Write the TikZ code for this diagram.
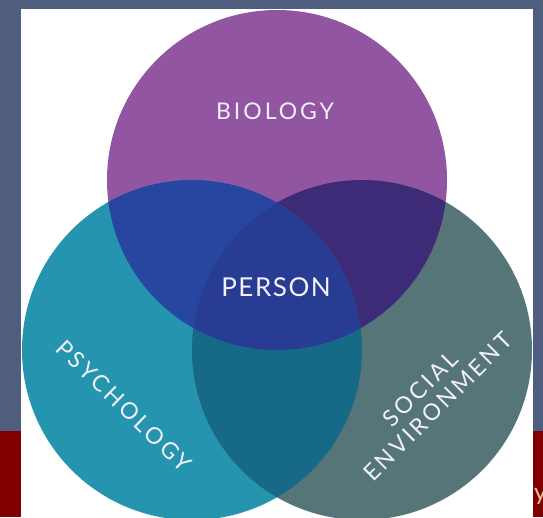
\documentclass[tikz,border=0pt]{standalone}
\usepackage{fontspec}
\newfontfamily\lbl[LetterSpace=13]{Lato}
\newfontfamily\lblp[LetterSpace=6]{Lato}
\newfontfamily\plain{Lato}
\definecolor{slate}{HTML}{4F5E7E}
\definecolor{band}{HTML}{800000}
\definecolor{bio}{HTML}{9155A2}
\definecolor{psy}{HTML}{2594AF}
\definecolor{soc}{HTML}{557579}
\definecolor{biopsy}{HTML}{2746A0}
\definecolor{biosoc}{HTML}{3D2B78}
\definecolor{psysoc}{HTML}{176A87}
\definecolor{core}{HTML}{293C94}
\definecolor{txt}{HTML}{F2F0F8}
\definecolor{tan}{HTML}{E6C592}
\tikzset{
  lab/.style={text=txt, font=\lbl\fontsize{23}{25}\selectfont, inner sep=0pt, align=center},
}
\begin{document}
\begin{tikzpicture}[x=1pt,y=-1pt]
\useasboundingbox (0,0) rectangle (543,517);
\fill[slate] (0,0) rectangle (543,517);
\fill[band] (0,431) rectangle (543,517);
\fill[white] (21,9) rectangle (533,517);
\def\cbio{(277,180) circle (170)}
\def\cpsy{(192,350) circle (170)}
\def\csoc{(362,350) circle (170)}
\fill[bio] \cbio;
\fill[psy] \cpsy;
\fill[soc] \csoc;
\begin{scope}
  \clip \cbio;
  \fill[biopsy] \cpsy;
  \fill[biosoc] \csoc;
\end{scope}
\begin{scope}
  \clip \cpsy;
  \fill[psysoc] \csoc;
\end{scope}
\begin{scope}
  \clip \cbio;
  \clip \cpsy;
  \fill[core] \csoc;
\end{scope}
\node[lab] (biology) at (275,111) {BIOLOGY};
\node[lab, font=\lblp\fontsize{26}{28}\selectfont] (person) at (276,287) {PERSON};
\node[lab, rotate=-44] (psychology) at (124,406) {PSYCHOLOGY};
\node[lab, rotate=45, font=\lbl\fontsize{23}{25}\selectfont] (social) at (429,398) {SOCIAL\\ENVIRONMENT};
\node[text=tan, font=\plain\fontsize{24}{26}\selectfont, anchor=base west, inner sep=0pt] (ychar) at (534,500) {y};
\end{tikzpicture}
\end{document}
